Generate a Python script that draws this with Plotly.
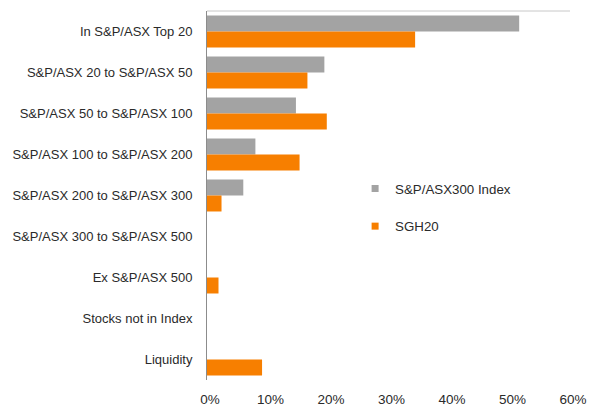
import plotly.graph_objects as go

categories = [
    "In S&P/ASX Top 20",
    "S&P/ASX 20 to S&P/ASX 50",
    "S&P/ASX 50 to S&P/ASX 100",
    "S&P/ASX 100 to S&P/ASX 200",
    "S&P/ASX 200 to S&P/ASX 300",
    "S&P/ASX 300 to S&P/ASX 500",
    "Ex S&P/ASX 500",
    "Stocks not in Index",
    "Liquidity",
]
index_name = "S&P/ASX300 Index"
index_values = [0.516, 0.194, 0.147, 0.080, 0.060, 0, 0, 0, 0]
fund_name = "SGH20"
fund_values = [0.344, 0.166, 0.198, 0.153, 0.024, 0, 0.019, 0, 0.091]
x_ticks = [0, 0.1, 0.2, 0.3, 0.4, 0.5, 0.6]

GRAY = "#A3A3A3"
ORANGE = "#F77F00"
FONT = "Liberation Sans, Arial, sans-serif"
TXT = "#2a2a2a"

fig = go.Figure()
fig.add_trace(go.Bar(y=categories, x=index_values, orientation="h",
                     marker=dict(color=GRAY, line=dict(width=0)),
                     name=index_name, showlegend=False))
fig.add_trace(go.Bar(y=categories, x=fund_values, orientation="h",
                     marker=dict(color=ORANGE, line=dict(width=0)),
                     name=fund_name, showlegend=False))
# legend entries
fig.add_trace(go.Scatter(x=[None], y=[None], mode="markers", name=index_name,
                         marker=dict(symbol="square", size=7, color=GRAY),
                         legend="legend"))
fig.add_trace(go.Scatter(x=[None], y=[None], mode="markers", name=fund_name,
                         marker=dict(symbol="square", size=7, color=ORANGE),
                         legend="legend2"))

fig.update_layout(
    width=595, height=405,
    margin=dict(l=207, r=25, t=11, b=25),
    paper_bgcolor="white", plot_bgcolor="white",
    barmode="group", bargap=0.22, bargroupgap=0,
    font=dict(family=FONT, size=13, color=TXT),
    legend=dict(x=0.408, y=0.56, xanchor="left", yanchor="top",
                bgcolor="rgba(0,0,0,0)", font=dict(size=13.3, color=TXT)),
    legend2=dict(x=0.408, y=0.458, xanchor="left", yanchor="top",
                 bgcolor="rgba(0,0,0,0)", font=dict(size=13.3, color=TXT)),
    xaxis=dict(range=[0, 0.6], tickvals=x_ticks, tickformat=".0%",
               showgrid=False, zeroline=False, showline=False,
               ticks="", ticklabelstandoff=9, ticklabelshift=3, automargin=False,
               tickfont=dict(size=13.5, color=TXT), fixedrange=True),
    yaxis=dict(autorange="reversed", showgrid=False, zeroline=False,
               showline=True, linecolor="#8C8C8C", linewidth=1,
               ticks="", ticklabelstandoff=11, automargin=False,
               tickfont=dict(size=13, color=TXT)),
    shapes=[dict(type="line", xref="paper", yref="paper", x0=0, x1=1, y0=1, y1=1,
                 line=dict(color="#C8C8C8", width=1))],
)

fig.write_html("out.html")
